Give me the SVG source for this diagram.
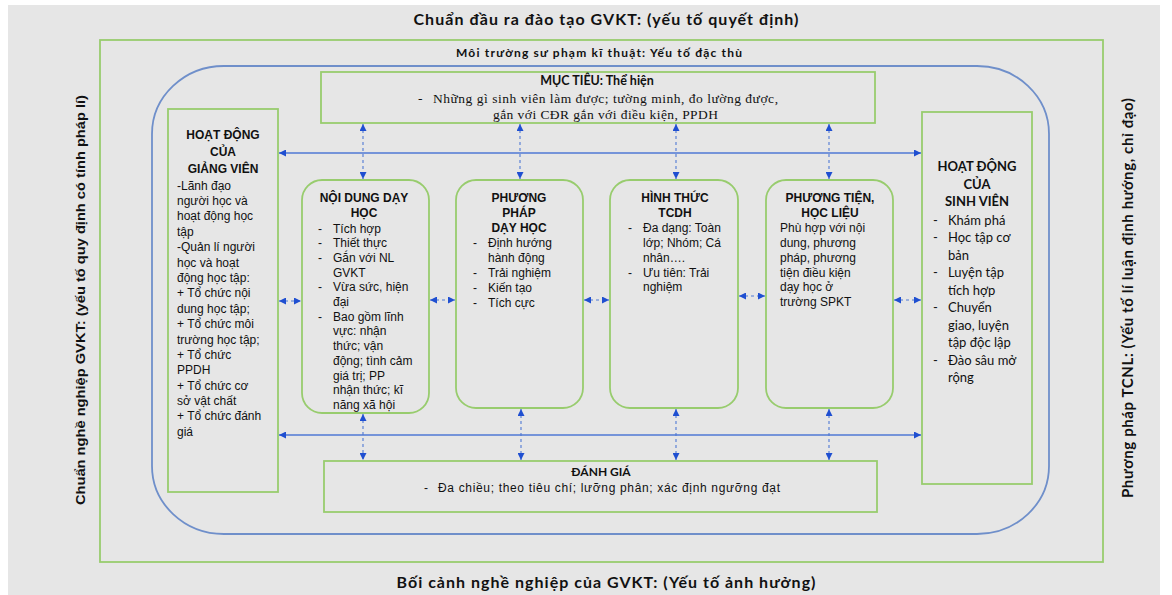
<svg xmlns="http://www.w3.org/2000/svg" width="1172" height="595" viewBox="0 0 1172 595">
<defs>
<style>
.bg{fill:#e6e6e6}
.g{fill:none;stroke:#98cc6e;stroke-width:1.8}
.box{fill:#e6e6e6;stroke:#98cc6e;stroke-width:1.8}
.blue{fill:none;stroke:#6f8fca;stroke-width:1.8}
.ln{stroke:#4f78d4;stroke-width:1.5;fill:none}
.dl{stroke:#4f78d4;stroke-width:1.1;stroke-dasharray:3 3;fill:none}
.cal{font-family:Lato,"Open Sans",sans-serif;fill:#111}
.ar{font-family:"Liberation Sans",Arial,sans-serif;fill:#111;font-size:12px}
.tm{font-family:"Liberation Serif","Times New Roman",serif;fill:#111;font-size:13.5px}
.b{font-weight:bold}
.c{text-anchor:middle}
</style>
<marker id="ah" viewBox="0 0 10 10" refX="10" refY="5" markerWidth="7" markerHeight="7" markerUnits="userSpaceOnUse" orient="auto-start-reverse">
<path d="M0,0 L10,5 L0,10 z" fill="#1f4fd1"/>
</marker>
</defs>
<rect x="8" y="5" width="1152" height="590" class="bg"/>

<g id="frame">
<text class="cal b c" x="606" y="25" font-size="16" textLength="385">Chuẩn đầu ra đào tạo GVKT: (yếu tố quyết định)</text>
<rect x="100" y="40" width="1003" height="522" class="g"/>
<text class="cal b c" x="599" y="57" font-size="12" textLength="286">Môi trường sư phạm kĩ thuật: Yếu tố đặc thù</text>
<rect x="152" y="66" width="897" height="468" rx="72" ry="68" class="blue"/>
<text class="ar b c" x="80" y="305" font-size="14" transform="rotate(-90 80 300)" textLength="410" lengthAdjust="spacingAndGlyphs">Chuẩn nghề nghiệp GVKT: (yếu tố quy định có tính pháp lí)</text>
<text class="cal b c" x="1128" y="303" font-size="15" transform="rotate(-90 1128 298)" textLength="400">Phương pháp TCNL: (Yếu tố lí luận định hướng, chỉ đạo)</text>
<text class="cal b c" x="606" y="588" font-size="16" textLength="419">Bối cảnh nghề nghiệp của GVKT: (Yếu tố ảnh hưởng)</text>
</g>

<g id="connectors">
<line x1="279" y1="153" x2="921" y2="153" class="ln" marker-start="url(#ah)" marker-end="url(#ah)"/>
<line x1="279" y1="435" x2="921" y2="435" class="ln" marker-start="url(#ah)" marker-end="url(#ah)"/>
<line x1="279" y1="301" x2="301" y2="301" class="dl" marker-start="url(#ah)" marker-end="url(#ah)"/>
<line x1="430" y1="300" x2="455" y2="300" class="dl" marker-start="url(#ah)" marker-end="url(#ah)"/>
<line x1="584" y1="300" x2="609" y2="300" class="dl" marker-start="url(#ah)" marker-end="url(#ah)"/>
<line x1="739" y1="296" x2="765" y2="296" class="dl" marker-start="url(#ah)" marker-end="url(#ah)"/>
<line x1="894" y1="300" x2="921" y2="300" class="dl" marker-start="url(#ah)" marker-end="url(#ah)"/>
<line x1="363" y1="124" x2="363" y2="179" class="dl" marker-start="url(#ah)" marker-end="url(#ah)"/>
<line x1="520" y1="124" x2="520" y2="179" class="dl" marker-start="url(#ah)" marker-end="url(#ah)"/>
<line x1="676" y1="124" x2="676" y2="179" class="dl" marker-start="url(#ah)" marker-end="url(#ah)"/>
<line x1="829" y1="124" x2="829" y2="179" class="dl" marker-start="url(#ah)" marker-end="url(#ah)"/>
<line x1="363" y1="414" x2="363" y2="460" class="dl" marker-start="url(#ah)" marker-end="url(#ah)"/>
<line x1="521" y1="409" x2="521" y2="460" class="dl" marker-start="url(#ah)" marker-end="url(#ah)"/>
<line x1="676" y1="409" x2="676" y2="460" class="dl" marker-start="url(#ah)" marker-end="url(#ah)"/>
<line x1="829" y1="409" x2="829" y2="460" class="dl" marker-start="url(#ah)" marker-end="url(#ah)"/>
</g>

<g id="muc-tieu">
<rect x="321" y="72" width="554" height="51" class="box"/>
<text class="cal b c" x="597" y="85" font-size="12.5">MỤC TIÊU: Thể hiện</text>
<text class="tm" x="418" y="103">-</text>
<text class="tm" x="433" y="103" textLength="345">Những gì sinh viên làm được; tường minh,  đo lường được,</text>
<text class="tm" x="493" y="119" textLength="225">gắn với CĐR gắn với điều kiện, PPDH</text>
</g>

<g id="hoat-dong-giang-vien">
<rect x="168" y="109" width="110" height="383" class="box"/>
<text class="ar b c" font-size="13"><tspan x="223" y="139">HOẠT ĐỘNG</tspan><tspan x="223" y="156">CỦA</tspan><tspan x="223" y="173">GIẢNG VIÊN</tspan></text>
<text class="ar" font-size="13">
<tspan x="177" y="189.5">-Lãnh đạo</tspan>
<tspan x="177" dy="15.4">người học và</tspan>
<tspan x="177" dy="15.4">hoạt động học</tspan>
<tspan x="177" dy="15.4">tập</tspan>
<tspan x="177" dy="15.4">-Quản lí người</tspan>
<tspan x="177" dy="15.4">học và hoạt</tspan>
<tspan x="177" dy="15.4">động học tập:</tspan>
<tspan x="177" dy="15.4">+ Tổ chức nội</tspan>
<tspan x="177" dy="15.4">dung học tập;</tspan>
<tspan x="177" dy="15.4">+ Tổ chức môi</tspan>
<tspan x="177" dy="15.4">trường học tập;</tspan>
<tspan x="177" dy="15.4">+ Tổ chức</tspan>
<tspan x="177" dy="15.4">PPDH</tspan>
<tspan x="177" dy="15.4">+ Tổ chức cơ</tspan>
<tspan x="177" dy="15.4">sở vật chất</tspan>
<tspan x="177" dy="15.4">+ Tổ chức đánh</tspan>
<tspan x="177" dy="15.4">giá</tspan>
</text>
</g>

<g id="noi-dung">
<rect x="302" y="180" width="127" height="233" rx="20" class="box"/>
<text class="ar b c" font-size="12.5"><tspan x="364" y="202">NỘI DUNG DẠY</tspan><tspan x="364" y="217">HỌC</tspan></text>
<text class="ar" font-size="12.5">
<tspan x="318" y="232.5">-</tspan><tspan x="333" y="232.5">Tích hợp</tspan>
<tspan x="318" y="247.2">-</tspan><tspan x="333" y="247.2">Thiết thực</tspan>
<tspan x="318" y="261.9">-</tspan><tspan x="333" y="261.9">Gắn với NL</tspan>
<tspan x="333" y="276.6">GVKT</tspan>
<tspan x="318" y="291.3">-</tspan><tspan x="333" y="291.3">Vừa sức, hiện</tspan>
<tspan x="333" y="306">đại</tspan>
<tspan x="318" y="320.7">-</tspan><tspan x="333" y="320.7">Bao gồm lĩnh</tspan>
<tspan x="333" y="335.4">vực: nhận</tspan>
<tspan x="333" y="350.1">thức; vận</tspan>
<tspan x="333" y="364.8">động; tình cảm</tspan>
<tspan x="333" y="379.5">giá trị; PP</tspan>
<tspan x="333" y="394.2">nhận thức; kĩ</tspan>
<tspan x="333" y="408.9">năng xã hội</tspan>
</text>
</g>

<g id="phuong-phap">
<rect x="456" y="180" width="127" height="228" rx="20" class="box"/>
<text class="ar b c" font-size="12.5"><tspan x="519" y="202">PHƯƠNG</tspan><tspan x="519" y="217">PHÁP</tspan><tspan x="519" y="232">DẠY HỌC</tspan></text>
<text class="ar" font-size="12.5">
<tspan x="473" y="247">-</tspan><tspan x="488" y="247">Định hướng</tspan>
<tspan x="488" y="262">hành động</tspan>
<tspan x="473" y="277">-</tspan><tspan x="488" y="277">Trải nghiệm</tspan>
<tspan x="473" y="292">-</tspan><tspan x="488" y="292">Kiến tạo</tspan>
<tspan x="473" y="307">-</tspan><tspan x="488" y="307">Tích cực</tspan>
</text>
</g>

<g id="hinh-thuc">
<rect x="610" y="180" width="128" height="228" rx="20" class="box"/>
<text class="ar b c" font-size="12.5"><tspan x="675" y="202">HÌNH THỨC</tspan><tspan x="675" y="217">TCDH</tspan></text>
<text class="ar" font-size="12.5">
<tspan x="628" y="232">-</tspan><tspan x="643" y="232">Đa dạng: Toàn</tspan>
<tspan x="643" y="247">lớp; Nhóm; Cá</tspan>
<tspan x="643" y="262">nhân….</tspan>
<tspan x="628" y="277">-</tspan><tspan x="643" y="277">Ưu tiên: Trải</tspan>
<tspan x="643" y="291">nghiệm</tspan>
</text>
</g>

<g id="phuong-tien">
<rect x="766" y="180" width="127" height="228" rx="20" class="box"/>
<text class="ar b c" font-size="12.5"><tspan x="830" y="202">PHƯƠNG TIỆN,</tspan><tspan x="830" y="217">HỌC LIỆU</tspan></text>
<text class="ar" font-size="12.5">
<tspan x="780" y="232">Phù hợp với nội</tspan>
<tspan x="780" y="247">dung, phương</tspan>
<tspan x="780" y="262">pháp, phương</tspan>
<tspan x="780" y="277">tiện điều kiện</tspan>
<tspan x="780" y="291">dạy học ở</tspan>
<tspan x="780" y="306">trường SPKT</tspan>
</text>
</g>

<g id="hoat-dong-sinh-vien">
<rect x="922" y="112" width="110" height="372" class="box"/>
<text class="cal b c" font-size="13"><tspan x="977" y="171">HOẠT ĐỘNG</tspan><tspan x="977" y="189">CỦA</tspan><tspan x="977" y="206">SINH VIÊN</tspan></text>
<text class="cal" font-size="13">
<tspan x="933" y="224.5">-</tspan><tspan x="948" y="224.5">Khám phá</tspan>
<tspan x="933" y="242">-</tspan><tspan x="948" y="242">Học tập cơ</tspan>
<tspan x="948" y="259.5">bản</tspan>
<tspan x="933" y="277">-</tspan><tspan x="948" y="277">Luyện tập</tspan>
<tspan x="948" y="294.5">tích hợp</tspan>
<tspan x="933" y="312">-</tspan><tspan x="948" y="312">Chuyển</tspan>
<tspan x="948" y="329.5">giao, luyện</tspan>
<tspan x="948" y="347">tập độc lập</tspan>
<tspan x="933" y="364.5">-</tspan><tspan x="948" y="364.5">Đào sâu mở</tspan>
<tspan x="948" y="382">rộng</tspan>
</text>
</g>

<g id="danh-gia">
<rect x="324" y="461" width="553" height="51" class="box"/>
<text class="cal b c" x="601" y="476" font-size="12">ĐÁNH GIÁ</text>
<text class="ar" x="424" y="492">-</text>
<text class="ar" x="438" y="492" textLength="342">Đa chiều; theo tiêu chí; lưỡng phân; xác định ngưỡng đạt</text>
</g>
</svg>
